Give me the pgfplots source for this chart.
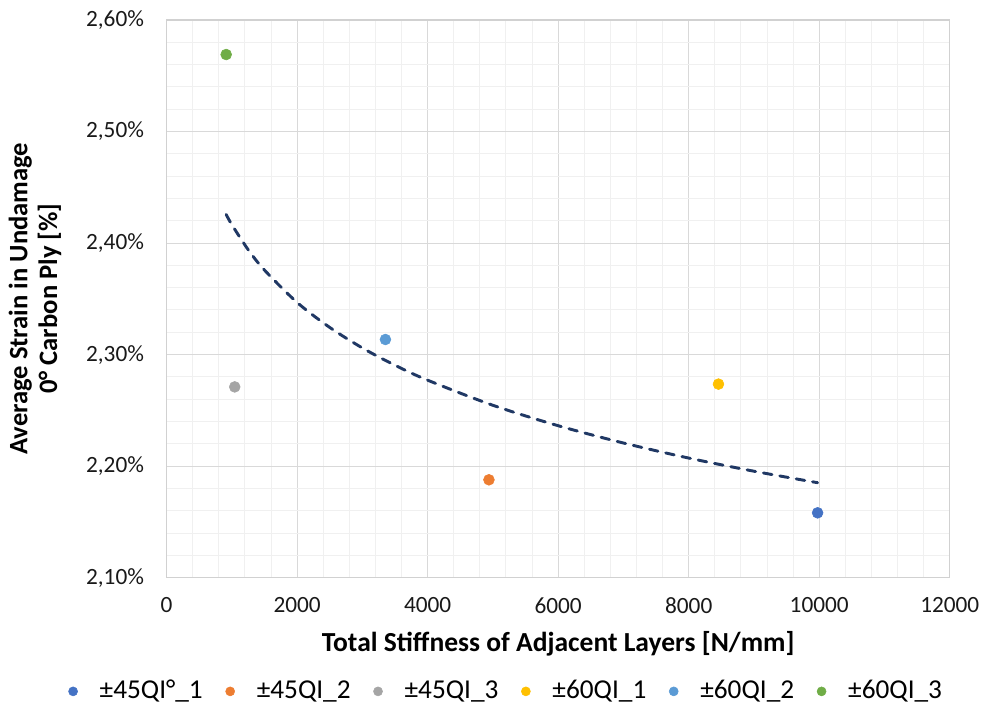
\documentclass[border=0pt]{standalone}
\usepackage{fontspec}
\setmainfont{Carlito}
\usepackage{pgfplots}
\pgfplotsset{compat=1.18}

\definecolor{xblue}{HTML}{4472C4}
\definecolor{xorange}{HTML}{ED7D31}
\definecolor{xgrey}{HTML}{A5A5A5}
\definecolor{xyellow}{HTML}{FFC000}
\definecolor{xlblue}{HTML}{5B9BD5}
\definecolor{xgreen}{HTML}{70AD47}
\definecolor{trend}{HTML}{203864}

\begin{document}
\fontsize{17.5}{21}\selectfont
\begin{tikzpicture}
\begin{axis}[
  scale only axis, width=588.75pt, height=419.25pt,
  xmin=0, xmax=12000, ymin=2.1, ymax=2.6,
  xtick={0,2000,...,12000}, ytick={2.1,2.2,...,2.6},
  scaled x ticks=false, scaled y ticks=false,
  minor x tick num=4, minor y tick num=4,
  grid=both,
  major grid style={color=black!15, line width=0.75pt},
  minor grid style={color=black!6, line width=0.75pt},
  axis line style={color=black!18, line width=0.9pt},
  major tick length=0pt, minor tick length=0pt,
  /pgf/number format/assume math mode=true,
  tick label style={font=\fontsize{17.5}{21}\selectfont, text=black!90},
  xticklabel={\pgfmathprintnumber[fixed,1000 sep={}]{\tick}},
  yticklabel={\pgfmathprintnumber[fixed,fixed zerofill,precision=2,use comma]{\tick}\%},
  xticklabel style={yshift=-9pt},
  yticklabel style={xshift=-11pt},
  xlabel={\textbf{Total Stiffness of Adjacent Layers [N/mm]}},
  xlabel style={at={(axis description cs:0.5,-0.118)}, anchor=center, font=\fontsize{20.7}{24}\selectfont},
  ylabel={\textbf{Average Strain in Undamage}\\\textbf{0° Carbon Ply [\%]}},
  ylabel style={at={(axis description cs:-0.168,0.5)}, anchor=center, align=center, font=\fontsize{20}{22.5}\selectfont},
  legend columns=6,
  legend style={at={(axis description cs:0.434,-0.204)}, anchor=center, draw=none, fill=none,
    font=\fontsize{20.5}{24}\selectfont,
    /tikz/every even column/.append style={column sep=15pt}},
  legend image code/.code={\draw[draw=none] (-3.4pt,0pt) -- (18pt,0pt); \fill[#1] (0pt,0pt) circle (3.4pt);},
]
\addplot[only marks, mark=*, mark size=4.1pt, color=xblue] coordinates {(9975,2.1581)};
\addlegendentry{±45QI°\_1}
\addplot[only marks, mark=*, mark size=4.1pt, color=xorange] coordinates {(4939,2.1877)};
\addlegendentry{±45QI\_2}
\addplot[only marks, mark=*, mark size=4.1pt, color=xgrey] coordinates {(1044,2.2710)};
\addlegendentry{±45QI\_3}
\addplot[only marks, mark=*, mark size=4.1pt, color=xyellow] coordinates {(8456,2.2735)};
\addlegendentry{±60QI\_1}
\addplot[only marks, mark=*, mark size=4.1pt, color=xlblue] coordinates {(3353,2.3135)};
\addlegendentry{±60QI\_2}
\addplot[only marks, mark=*, mark size=4.1pt, color=xgreen] coordinates {(913,2.5690)};
\addlegendentry{±60QI\_3}
% logarithmic trendline
\addplot[forget plot, color=trend, line width=2.2pt, line cap=round, dash pattern=on 6.5pt off 6pt, smooth] coordinates {
(913,2.4256)(1000,2.4164)(1250,2.3940)(1500,2.3757)(2000,2.3467)(2500,2.3243)
(3000,2.3059)(3500,2.2904)(4000,2.2770)(5000,2.2545)(6000,2.2362)(7000,2.2207)
(8000,2.2072)(9000,2.1954)(9975,2.1851)};
\end{axis}
\path (current axis.south west) ++(-125.25pt,-104.25pt);
\path (current axis.north east) ++(26.25pt,15pt);
\end{tikzpicture}
\end{document}
